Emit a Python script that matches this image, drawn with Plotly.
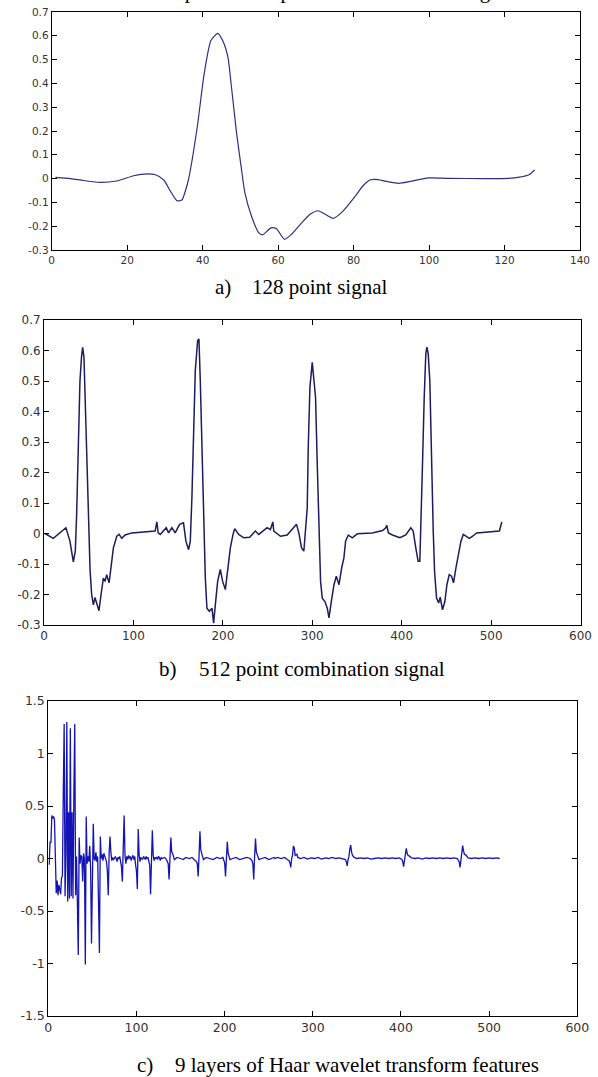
import plotly.graph_objects as go

# ---------------- data ----------------
# a) 128 point signal (read key points)
sig128_x = [1, 5, 8.4, 12.8, 17.2, 21.7, 24.4, 27.5, 29.7, 31.5, 33.2, 34.5, 35.5, 36.3, 38.6, 40.4, 42.2, 44,
            45.3, 46.7, 47.6, 49, 50.2, 51.2, 53, 54.9, 55.9, 58.1, 59.5, 61.7, 63.5, 66, 68.5, 70.6, 72.5,
            74.6, 77, 80.4, 82.5, 84.5, 86.5, 89, 92, 95, 99.9, 105, 115, 121, 124, 126.5, 128]
sig128_y = [0.005, 0.0, -0.008, -0.016, -0.01, 0.012, 0.019, 0.016, -0.006, -0.054, -0.093, -0.09, -0.048, 0.0,
            0.22, 0.44, 0.58, 0.61, 0.58, 0.51, 0.39, 0.19, 0.05, -0.06, -0.16, -0.228, -0.236, -0.207, -0.21,
            -0.255, -0.235, -0.19, -0.15, -0.135, -0.15, -0.167, -0.14, -0.075, -0.03, -0.005, -0.004, -0.013,
            -0.02, -0.012, 0.003, 0.001, 0.0, 0.001, 0.006, 0.016, 0.036]

# b) 512 point combination signal
sig512_x = [1, 10.4, 24.5, 29, 32.8, 35, 36.5, 38.4, 40.2, 42, 43.2, 44.7, 46.6, 48.5, 50, 51.5, 53.3, 55.2, 57,
            58.9, 61.5, 63.8, 66.4, 68.3, 70.1, 72.8, 74.6, 77.6, 81.4, 84, 87, 90.7, 98.2, 124.3, 126.2, 127.7,
            130, 133.7, 136.7, 139.3, 143, 146.7, 151.6, 156, 158.7, 161.7, 163.6, 165.4, 167.3, 169.2, 171.8,
            173.3, 174.8, 176.6, 178.5, 180.4, 182.2, 184.9, 187.9, 189.7, 191.6, 194.2, 197.2, 199.8, 202.8,
            205.4, 208.4, 211.4, 213.3, 217.7, 223.4, 230, 236.4, 240.2, 245, 249.5, 253.2, 255.9, 257,
            264.5, 272, 278.7, 282.4, 285, 288, 290.6, 292.5, 294.4, 295.5, 297.4, 300, 301.8, 303.7, 305.6,
            307.4, 309.3, 311.2, 314.2, 316.8, 318.7, 321.3, 324.3, 326.9, 329.9, 332.9, 335.4, 337.3, 340.3,
            344.8, 350.4, 367.2, 378.7, 382.2, 383.3, 385.2,
            389.7, 398, 404.6, 410.2, 412.9, 415.8, 418.4, 420.3, 421.4, 423.3, 425.2, 427, 428.2, 429.7, 431.5,
            433.4, 435.3, 436.8, 439, 441.3, 443.1, 445.7, 448.3, 450.6, 453.2, 455.8, 458, 460.7, 463.7, 466.3,
            468.9, 471.9, 475.7, 479.4, 483.9, 509.3, 511.2, 512]
sig512_y = [0.0, -0.016, 0.019, -0.025, -0.093, -0.058, 0.062, 0.28, 0.5, 0.58, 0.61, 0.578, 0.39, 0.205, 0.062,
            -0.118, -0.2, -0.234, -0.21, -0.228, -0.253, -0.2, -0.146, -0.157, -0.135, -0.162, -0.124, -0.047,
            -0.009, -0.003, -0.016, -0.005, 0.002, 0.008, 0.038, 0.002,
            -0.003, 0.01, 0.019, 0.002, 0.019, 0.002, 0.03, 0.035, -0.025, -0.053, -0.025, 0.117, 0.315, 0.534,
            0.633, 0.638, 0.5, 0.28, 0.062, -0.146, -0.245, -0.255, -0.245, -0.294, -0.234, -0.157, -0.118,
            -0.157, -0.184, -0.113, -0.047, -0.003, 0.016, -0.003, -0.014, -0.012, 0.008, -0.003, 0.01, 0.019,
            0.013, 0.038, 0.008,
            -0.009, -0.005, 0.019, 0.03, 0.002, -0.047, -0.058, 0.019, 0.084, 0.28, 0.48, 0.561, 0.512, 0.446,
            0.227, 0.008, -0.157, -0.212, -0.223, -0.245, -0.277, -0.223, -0.168, -0.14, -0.168, -0.113, -0.08,
            -0.025, -0.005, -0.014, -0.001, 0.002, 0.01, 0.019, 0.027, 0.002,
            -0.005, -0.014, -0.005, 0.019, 0.008, -0.047, -0.091, -0.091, 0.008, 0.227, 0.446, 0.589, 0.611,
            0.589, 0.5, 0.227, 0.008, -0.124, -0.212, -0.228, -0.209, -0.25, -0.223, -0.168, -0.135, -0.14,
            -0.162, -0.113, -0.069, -0.025, -0.003, -0.009, -0.016, -0.009, 0.002, 0.008, 0.024, 0.038]

# c) 9 layers of Haar wavelet transform features
haar_x = list(range(1, 129)) + [
    129, 132, 134, 136, 137, 138, 139, 140, 141, 143, 146, 150, 153, 156, 160, 163, 166, 168, 169, 170, 171,
    172, 173, 174, 176, 179, 183, 187, 191, 195, 198, 200, 201, 202, 203, 204, 206, 209, 213, 217, 221, 225,
    229, 231, 232, 233, 234, 235, 236, 237, 239, 242, 246, 250, 253, 256,
    257, 260, 264, 268, 271, 273, 274, 275, 276, 277, 278, 279, 280, 282, 283, 286, 290, 294, 298, 302, 306,
    310, 314, 318, 322, 326, 330, 334, 337, 338, 339, 340, 341, 342, 343, 344, 345, 347, 350, 354, 358, 362,
    366, 370, 374, 378, 382, 386, 390, 394, 398, 401, 402, 403, 404, 405, 406, 407, 408, 410, 412, 416, 420,
    424, 428, 432, 436, 440, 444, 448, 452, 456, 460, 464, 465, 466, 467, 468, 469, 470, 471, 472, 474, 476,
    480, 484, 488, 492, 496, 500, 504, 508, 512]
haar_y = [
    -0.06, 0.16, 0.15, 0.41, 0.38, 0.40, 0.37, -0.19, -0.33, -0.21, -0.35, -0.25, -0.31, -0.34, -0.18, -0.17,
    0.63, 1.28, -0.36, 0.04, 1.30, -0.41, 0.44, -0.38, 1.24, -0.36, 0.44, -0.38, 0.63, 1.28, -0.35, 0.02,
    -0.44, -0.92, 0.20, -0.05, 0.03, 0.02, -0.22, 0.05, 0.0, -1.01, 0.40, -0.05, 0.02, -0.03, 0.12, -0.1,
    -0.81, 0.05, 0.33, 0.0, -0.02, 0.06, -0.03, 0.02, -0.44, -0.90, 0.21, 0.0, 0.04, -0.02, 0.05, 0.02,
    0.01, -0.03, -0.12, -0.35, 0.05, 0.21, 0.06, -0.02, 0.01, -0.01, 0.0, 0.02, 0.0, -0.03, 0.01, 0.0,
    0.02, -0.04, -0.08, -0.22, 0.05, 0.41, 0.03, -0.05, 0.02, -0.01, 0.03, 0.0, 0.02, -0.02, 0.01, 0.03,
    -0.01, 0.02, -0.06, -0.12, -0.29, 0.28, 0.04, -0.03, 0.01, 0.0, -0.01, 0.02, 0.01, -0.01, 0.02, 0.0,
    0.01, -0.03, -0.06, -0.34, 0.05, 0.27, 0.03, -0.02, 0.01, 0.0, 0.01, -0.01, 0.02, 0.01, -0.02, 0.01,
    0.0, 0.01, -0.01, -0.05, -0.20, 0.02, 0.20, 0.06, 0.05, -0.01, 0.01, 0.0, -0.01, 0.01, 0.0, 0.01, -0.01,
    -0.03, -0.05, -0.17, 0.03, 0.26, 0.08, 0.04, -0.01, 0.01, 0.0, -0.01, 0.01, 0.0, 0.01, -0.04, -0.17,
    0.02, 0.16, 0.05, -0.01, 0.0, 0.01, -0.01, 0.0, 0.01, 0.0, -0.02, -0.05, -0.20, 0.02, 0.19, 0.06, 0.03,
    -0.01, 0.0, 0.01, -0.01, 0.0, 0.01,
    0.0, 0.01, 0.0, 0.01, -0.01, -0.02, -0.04, -0.085, 0.0, 0.03, 0.12, 0.10, 0.03, 0.04, 0.01, 0.0, 0.01,
    -0.005, 0.005, 0.0, 0.01, -0.005, 0.005, 0.0, 0.01, 0.0, 0.005, 0.0, -0.01, -0.03, -0.07, -0.01, 0.02,
    0.09, 0.128, 0.06, 0.03, 0.01, 0.0, 0.005, 0.0, 0.005, -0.005, 0.0, 0.005, 0.0, 0.005, 0.0, 0.005, 0.0,
    0.005, -0.01, -0.03, -0.078, 0.0, 0.04, 0.097, 0.05, 0.03, 0.02, 0.005, 0.0, 0.005, -0.005, 0.005, 0.0,
    0.005, 0.0, 0.005, 0.0, 0.005, 0.0, 0.005, 0.0, -0.01, -0.03, -0.085, 0.0, 0.05, 0.122, 0.07, 0.04, 0.03,
    0.005, 0.0, 0.005, 0.0, 0.005, 0.0, 0.005, 0.0, 0.005, 0.0]

# tick labels
ticks_a_y = [-0.3, -0.2, -0.1, 0, 0.1, 0.2, 0.3, 0.4, 0.5, 0.6, 0.7]
ticks_a_ytext = ["-0.3", "-0.2", "-0.1", "0", "0.1", "0.2", "0.3", "0.4", "0.5", "0.6", "0.7"]
ticks_a_x = [0, 20, 40, 60, 80, 100, 120, 140]
ticks_bc_x = [0, 100, 200, 300, 400, 500, 600]
ticks_c_y = [-1.5, -1, -0.5, 0, 0.5, 1, 1.5]
ticks_c_ytext = ["-1.5", "-1", "-0.5", "0", "0.5", "1", "1.5"]

captions = ["a)", "128 point signal", "b)", "512 point combination signal",
            "c)", "9 layers of Haar wavelet transform features"]
top_title = "128 point ECG pulse of the heartbeat signal"

# ---------------- figure ----------------
W, H = 598, 1077


def fx(px):
    return px / W


def fy(py):
    return 1 - py / H


fig = go.Figure()
fig.add_trace(go.Scatter(x=sig128_x, y=sig128_y, mode="lines", xaxis="x", yaxis="y",
                         line=dict(color="#2e2e85", width=1.2, shape="spline", smoothing=0.6)))
fig.add_trace(go.Scatter(x=sig512_x, y=sig512_y, mode="lines", xaxis="x2", yaxis="y2",
                         line=dict(color="#1c1c5e", width=1.5)))
fig.add_trace(go.Scatter(x=haar_x, y=haar_y, mode="lines", xaxis="x3", yaxis="y3",
                         line=dict(color="#1414b4", width=1.3)))

common = dict(showline=True, linecolor="black", linewidth=1, mirror="ticks", ticks="inside",
              ticklen=5, tickcolor="black", showgrid=False, zeroline=False, fixedrange=True,
              automargin=False)


def tf(size):
    return dict(family="DejaVu Sans", size=size, color="#333333")


fig.update_layout(
    template="none",
    width=W, height=H, margin=dict(l=0, r=0, t=0, b=0, pad=0, autoexpand=False),
    paper_bgcolor="white", plot_bgcolor="white", showlegend=False,
    xaxis=dict(domain=[fx(51.7), fx(580)], range=[0, 140], anchor="y", tickvals=ticks_a_x,
               tickfont=tf(10.5), **common),
    yaxis=dict(domain=[fy(250), fy(12)], range=[-0.3, 0.7], anchor="x", tickvals=ticks_a_y,
               ticktext=ticks_a_ytext, tickfont=tf(10.5), **common),
    xaxis2=dict(domain=[fx(44), fx(580.5)], range=[0, 600], anchor="y2", tickvals=ticks_bc_x,
                tickfont=tf(12), **common),
    yaxis2=dict(domain=[fy(625), fy(320)], range=[-0.3, 0.7], anchor="x2", tickvals=ticks_a_y,
                ticktext=ticks_a_ytext, tickfont=tf(12), **common),
    xaxis3=dict(domain=[fx(48.3), fx(577.3)], range=[0, 600], anchor="y3", tickvals=ticks_bc_x,
                tickfont=tf(12.5), **common),
    yaxis3=dict(domain=[fy(1016), fy(701)], range=[-1.5, 1.5], anchor="x3", tickvals=ticks_c_y,
                ticktext=ticks_c_ytext, tickfont=tf(12.5), **common),
)

cap_font = dict(family="Liberation Serif", size=21, color="black")
cap_pos = [(213, 287), (250, 287), (157, 669), (197, 669), (135, 1065), (172.7, 1065)]
for txt, (px, py) in zip(captions, cap_pos):
    fig.add_annotation(text=txt, x=fx(px), y=fy(py), xref="paper", yref="paper",
                       xanchor="left", yanchor="middle", showarrow=False, font=cap_font)

fig.add_annotation(text=top_title, x=fx(146), y=fy(-9), xref="paper", yref="paper",
                   xanchor="left", yanchor="middle", showarrow=False, font=cap_font)

fig.write_html("out.html", config={"displayModeBar": False},
               post_script="document.body.style.margin='0';")
